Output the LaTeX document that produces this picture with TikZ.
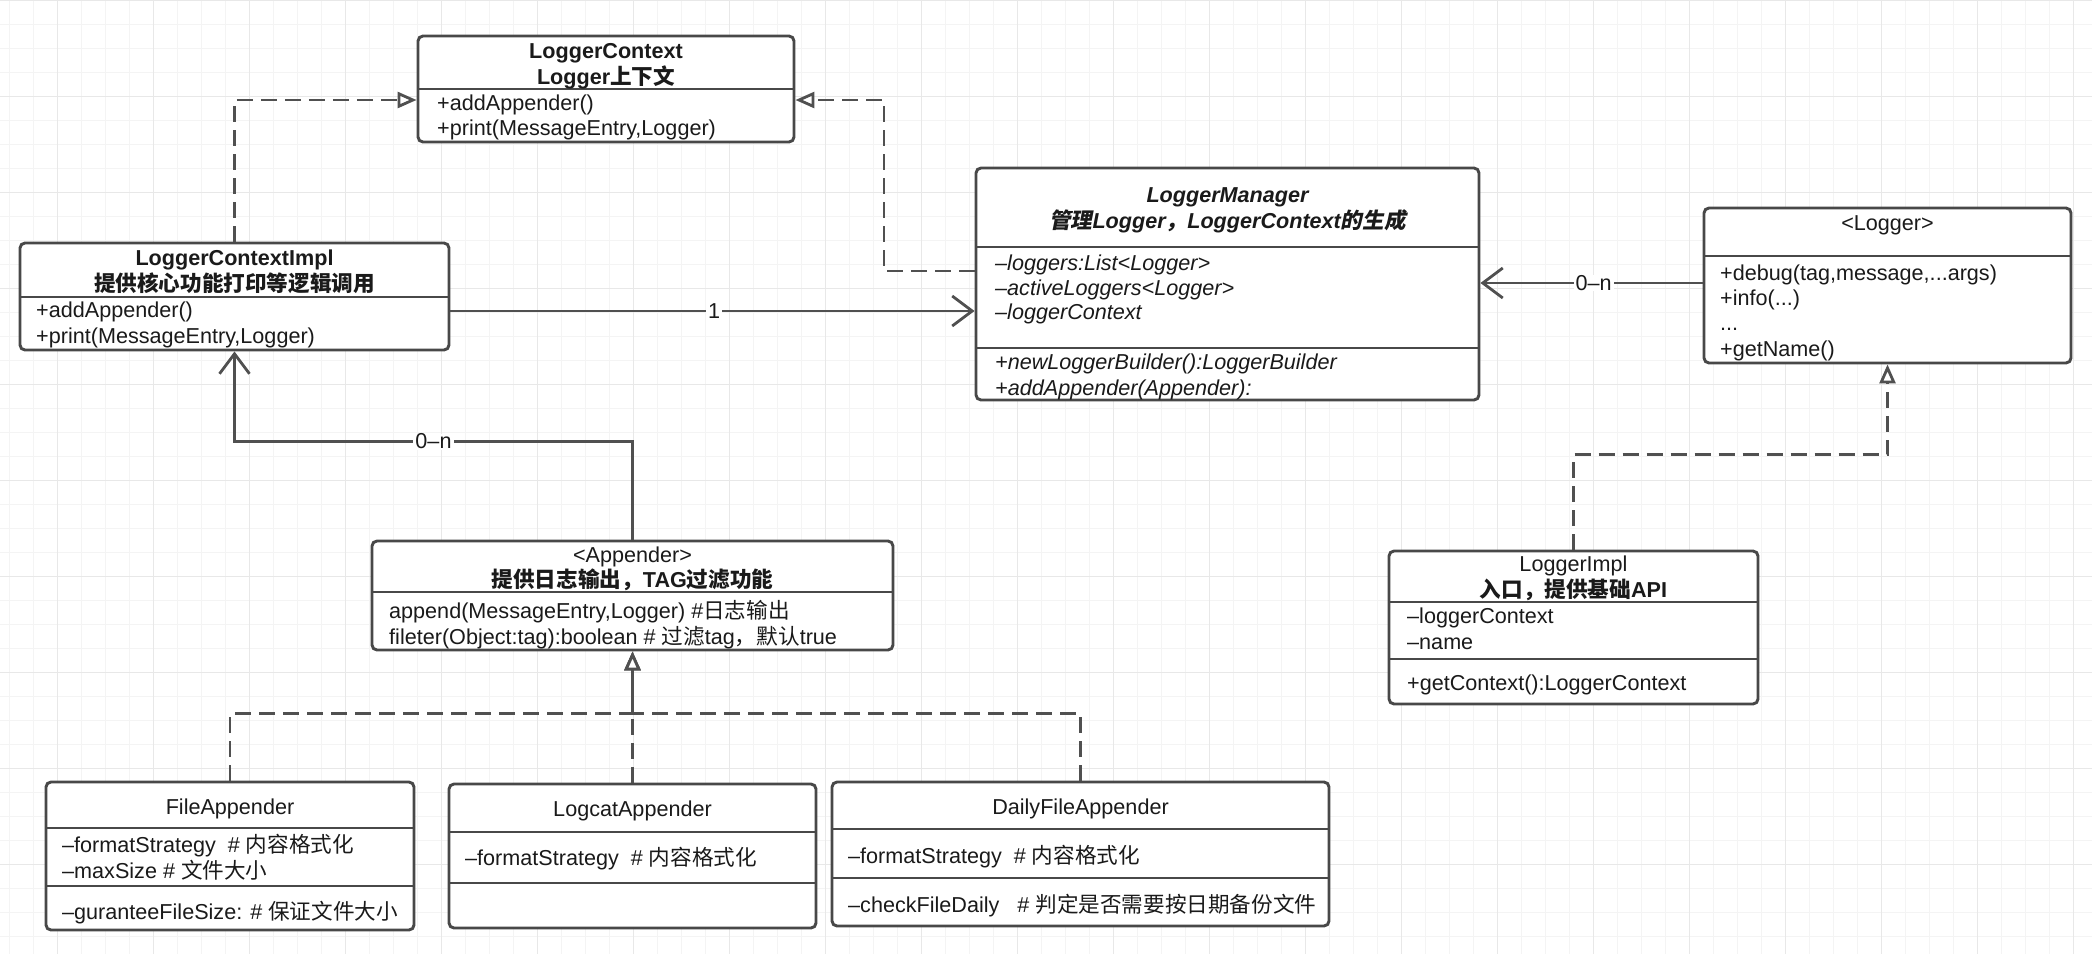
\documentclass[tikz,border=0pt]{standalone}
\usepackage{fontspec}
\setmainfont{Liberation Sans}
\newfontfamily\cjk{Noto Sans CJK SC}
\newfontfamily\cjksl{Noto Sans CJK SC}[FakeSlant=0.2]
\usetikzlibrary{arrows.meta}
\definecolor{gridmin}{HTML}{F4F4F4}
\definecolor{gridmaj}{HTML}{E8E8E8}
\definecolor{boxc}{HTML}{484848}
\definecolor{linec}{HTML}{505050}
\definecolor{txt}{HTML}{1A1A1A}
\tikzset{
 cbox/.style={draw=boxc, line width=2.9pt, rounded corners=5pt, fill=white, inner sep=0pt},
 divl/.style={draw=boxc, line width=2.9pt},
 tx/.style={font=\fontsize{21.6}{25}\selectfont, text=txt, inner sep=0pt, text height=14pt, text depth=0pt},
 tl/.style={tx, anchor=west},
 tc/.style={tx, anchor=center},
 conn/.style={draw=linec, line width=2.8pt},
 dsh/.style={conn, dash pattern=on 16pt off 8pt},
 real/.style={dsh, -{Triangle[open, length=19pt, width=16pt, fill=white]}},
 assoc/.style={conn, -{Straight Barb[length=20pt, width=30pt]}},
 lbl/.style={tx, anchor=center, fill=white, inner xsep=2pt, inner ysep=1pt}
}
\newcommand\classbox[5]{\node[cbox, minimum width={#4-#2}, minimum height={#5-#3}] (#1) at ({(#2+#4)/2},{(#3+#5)/2}) {};}
\newcommand\divline[3]{\draw[divl] (#1,#3) -- (#2,#3);}
\begin{document}
\begin{tikzpicture}[x=1pt,y=-1pt]
\useasboundingbox (0,0) rectangle (2092,954);
\fill[white] (0,0) rectangle (2092,954);
% grid
\foreach \x in {9.3,33.3,...,2092} \draw[gridmin, line width=1pt] (\x,0) -- (\x,954);
\foreach \y in {0.7,24.7,...,954} \draw[gridmin, line width=1pt] (0,\y) -- (2092,\y);
\foreach \x in {57.3,153.3,...,2092} \draw[gridmaj, line width=1pt] (\x,0) -- (\x,954);
\foreach \y in {0.7,96.7,...,954} \draw[gridmaj, line width=1pt] (0,\y) -- (2092,\y);

% LoggerContext
\classbox{lc}{418}{36}{794}{142}
\divline{418}{794}{89}
\node[tc] (lc1) at (606,51) {\bfseries LoggerContext};
\node[tc] (lc2) at (606,77) {\bfseries Logger{\cjk 上下文}};
\node[tl] (lc3) at (437,103) {+addAppender()};
\node[tl] (lc4) at (437,128) {+print(MessageEntry,Logger)};

% LoggerContextImpl
\classbox{lci}{20}{243}{449}{350}
\divline{20}{449}{297}
\node[tc] (lci1) at (234.5,258) {\bfseries LoggerContextImpl};
\node[tc] (lci2) at (234.5,284) {\cjk\bfseries 提供核心功能打印等逻辑调用};
\node[tl] (lci3) at (36,310) {+addAppender()};
\node[tl] (lci4) at (36,336) {+print(MessageEntry,Logger)};

% LoggerManager
\classbox{lm}{976}{168}{1479}{400}
\divline{976}{1479}{247}
\divline{976}{1479}{348}
\node[tc] (lm1) at (1227.5,195) {\bfseries\itshape LoggerManager};
\node[tc] (lm2) at (1227.5,221) {\bfseries\itshape{\cjksl 管理}Logger{\cjksl ，}LoggerContext{\cjksl 的生成}};
\node[tl] (lm3) at (995,263) {\itshape –loggers:List<Logger>};
\node[tl] (lm4) at (995,288) {\itshape –activeLoggers<Logger>};
\node[tl] (lm5) at (995,312) {\itshape –loggerContext};
\node[tl] (lm6) at (995,362) {\itshape +newLoggerBuilder():LoggerBuilder};
\node[tl] (lm7) at (995,388) {\itshape +addAppender(Appender):};

% Logger
\classbox{lg}{1704}{208}{2071}{363}
\divline{1704}{2071}{256}
\node[tc] (lg1) at (1887.5,223) {<Logger>};
\node[tl] (lg2) at (1720,273) {+debug(tag,message,...args)};
\node[tl] (lg3) at (1720,298) {+info(...)};
\node[tl] (lg4) at (1720,323) {...};
\node[tl] (lg5) at (1720,349) {+getName()};

% LoggerImpl
\classbox{li}{1389}{551}{1758}{704}
\divline{1389}{1758}{602}
\divline{1389}{1758}{659}
\node[tc] (li1) at (1573.5,564) {LoggerImpl};
\node[tc] (li2) at (1573.5,590) {\bfseries{\cjk 入口，提供基础}API};
\node[tl] (li3) at (1407,616) {–loggerContext};
\node[tl] (li4) at (1407,642) {–name};
\node[tl] (li5) at (1407,683) {+getContext():LoggerContext};

% Appender
\classbox{ap}{372}{541}{893}{650}
\divline{372}{893}{592}
\node[tc] (ap1) at (632.5,555) {<Appender>};
\node[tc] (ap2) at (632.5,580) {\bfseries{\cjk 提供日志输出，}TAG{\cjk 过滤功能}};
\node[tl] (ap3) at (389,611) {append(MessageEntry,Logger) \#{\cjk 日志输出}};
\node[tl] (ap4) at (389,637) {fileter(Object:tag):boolean \# {\cjk 过滤}tag{\cjk ，默认}true};

% FileAppender
\classbox{fa}{46}{782}{414}{930}
\divline{46}{414}{828}
\divline{46}{414}{886}
\node[tc] (fa1) at (230,807) {FileAppender};
\node[tl] (fa2) at (62,845) {–formatStrategy\ \ \# {\cjk 内容格式化}};
\node[tl] (fa3) at (62,871) {–maxSize \# {\cjk 文件大小}};
\node[tl] (fa4) at (62,912) {–guranteeFileSize: \# {\cjk 保证文件大小}};

% LogcatAppender
\classbox{la}{449}{784}{816}{928}
\divline{449}{816}{832}
\divline{449}{816}{883}
\node[tc] (la1) at (632.5,809) {LogcatAppender};
\node[tl] (la2) at (465,858) {–formatStrategy\ \ \# {\cjk 内容格式化}};

% DailyFileAppender
\classbox{da}{832}{782}{1329}{926}
\divline{832}{1329}{829}
\divline{832}{1329}{878}
\node[tc] (da1) at (1080.5,807) {DailyFileAppender};
\node[tl] (da2) at (848,856) {–formatStrategy\ \ \# {\cjk 内容格式化}};
\node[tl] (da3) at (848,905) {–checkFileDaily\ \ \ \# {\cjk 判定是否需要按日期备份文件}};

% connectors
\coordinate (b2) at (884,100);
\draw[real] (lci.north) |- ([yshift=-11pt]lc.west);
\draw[real] ([yshift=13pt]lm.west) -| (b2) -- ([yshift=-11pt]lc.east);
\draw[assoc] ([yshift=-14.5pt]lci.east) -- node[lbl, pos=0.503] {1} ([yshift=-27pt]lm.west);
\draw[assoc] ([yshift=2.5pt]lg.west) -- node[lbl, pos=0.49] {0–n} ([yshift=1pt]lm.east);
\draw[real] (li.north) -- ++(0,-95) -| (lg.south);
\draw[assoc] (ap.north) -- ++(0,-98) -| node[lbl, pos=0.25] {0–n} (lci.south);
\draw[real] (fa.north) -- ++(0,-67) -| (ap.south);
\draw[real] (la.north) -- (ap.south);
\draw[real] (da.north) -- ++(0,-67) -| (ap.south);
\end{tikzpicture}
\end{document}
